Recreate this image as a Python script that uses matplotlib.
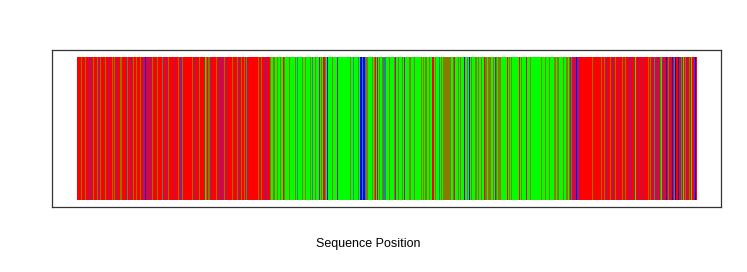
import numpy as np
import matplotlib
matplotlib.use("Agg")
import matplotlib.pyplot as plt
from matplotlib.colors import to_rgb

# Per-position residue class
# R = red, G = green, B = blue; O / P / T are the blended columns (red+green, red+blue, green+blue)
seq_parts = [
    "RRRR O RRR O RRR PP RR O RRR O R P O RRRR O RRR P RR O R O R P RRR OO RRRR P O RR",
    "R P R O RR O RRR O R P RR B P RR PP R O RRRR O RRRR O P RR P R O RRRRRR P RR O R P O RRRRRR",
    "RRR O R P RRRR O RRRRR G O R OO P RRRRR O RR PP R P R O RR P RRRR O RRRR O R P R O RR O R O",
    "P RRRRRRRRRR O RR O RRR P R P RR O GG OO GG O GG O GG R O GGGG O GGGGG O G T GGGG O GG",
    "O GGGG O G T GG O GGG P G O G RR O G B GGGG O GGGG P GGGGGGGGGGGG O GG T GGGG T GB B T",
    "BB T OO GGGG O G O R G P G O GG O TTT GG O GGGG O P GG O GGG O G P GGGG OO GGG O GGGGGG O",
    "G O G OO GG O GG RR G O GGG T G O G OOOOOOOO GG O R GGG O G O GGG B GG O G B G O GGG OO G O G",
    "G O GG R OO G OOO GG O G P O G OOO GGGGGG R G O G O GGGGGGG R G O GGGG R GGG O GGGGGGG",
    "GGG O GGG O GGG O GGGG OO G OO GGGG O GG OO G O P O P R P R B P R P R RRRRRRRRRRR O RRR",
    "RRRR O RR O RR P RR O R P RR O RR P RRR O RR O RR P R P RRRR G RR P RRR P RRRRR O R O R P R O",
    "P R PP R O G R PP R B R O R P R B R O B RR B R P O R G R O P RR O R G RR P B R",
]
seq = "".join(p.replace(" ", "") for p in seq_parts)

class_colors = {
    "R": "#ff0000",
    "G": "#00ff00",
    "B": "#0000ff",
    "O": "#8a7a00",
    "P": "#9a1590",
    "T": "#208a80",
}

n = len(seq)
img = np.array([[to_rgb(class_colors[c]) for c in seq]])

fig = plt.figure(figsize=(7.47, 2.72), dpi=100)
ax = fig.add_axes([52/747, 1-207/272, 669/747, 157/272])
ax.imshow(img, aspect="auto", interpolation="nearest",
          extent=(0, n, 0, 1), origin="lower")
pad = 0.04 * n
ax.set_xlim(-pad, n + pad)
ax.set_ylim(-0.05, 1.05)
ax.set_xticks([])
ax.set_yticks([])
for s in ax.spines.values():
    s.set_color("#333333")
    s.set_linewidth(0.9)

fig.text(368/747, 1-244.5/272, "Sequence Position", ha="center", va="center",
         fontsize=9, family=["Liberation Sans", "DejaVu Sans"])

fig.savefig("out.png", dpi=100)
